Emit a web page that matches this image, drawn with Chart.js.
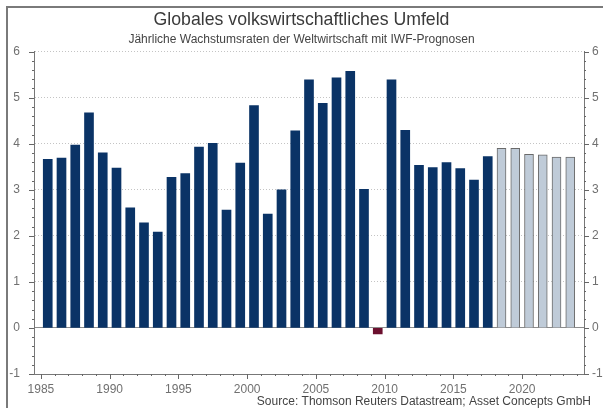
<!DOCTYPE html>
<html>
<head>
<meta charset="utf-8">
<script src="https://cdn.jsdelivr.net/npm/chart.js@4/dist/chart.umd.min.js"></script>
<style>
  html, body { margin: 0; padding: 0; background: #fff; overflow: hidden; }
  .frame {
    position: absolute; left: 6px; top: 6px; width: 700px; height: 500px;
    border-left: 2px solid #7a7a7a; border-top: 2px solid #7a7a7a;
  }
  .wrap { position: absolute; left: 0; top: 0; width: 603px; height: 408px; }
</style>
</head>
<body>
<div class="frame"></div>
<div class="wrap"><canvas id="chart" width="603" height="408"></canvas></div>
<script>
const TITLE = 'Globales volkswirtschaftliches Umfeld';
const SUBTITLE = 'Jährliche Wachstumsraten der Weltwirtschaft mit IWF-Prognosen';
const SOURCE = 'Source: Thomson Reuters Datastream; Asset Concepts GmbH';

// actual growth rates, 1985-2017
const actualYears = [
  1985, 1986, 1987, 1988, 1989, 1990, 1991, 1992, 1993, 1994, 1995,
  1996, 1997, 1998, 1999, 2000, 2001, 2002, 2003, 2004, 2005, 2006,
  2007, 2008, 2009, 2010, 2011, 2012, 2013, 2014, 2015, 2016, 2017,
];
const actualValues = [
  3.66, 3.69, 3.97, 4.67, 3.80, 3.47, 2.61, 2.28, 2.08, 3.27, 3.35,
  3.93, 4.01, 2.56, 3.58, 4.83, 2.47, 3.00, 4.28, 5.39, 4.88, 5.43,
  5.57, 3.01, -0.13, 5.39, 4.29, 3.53, 3.48, 3.59, 3.46, 3.21, 3.72,
];

// IMF forecasts, 2018-2023
const forecastYears = [2018, 2019, 2020, 2021, 2022, 2023];
const forecastValues = [3.90, 3.90, 3.77, 3.76, 3.71, 3.71];

const X_MIN = 1985;
const X_MAX = 2024;
const Y_MIN = -1;
const Y_MAX = 6;

const NAVY = '#0a3366';
const MAROON = '#6b0f2e';
const FONT_FAMILY = '"Liberation Sans", Arial, sans-serif';

function toPoints(years, values) {
  return years.map((year, i) => ({ x: year + 0.5, y: values[i] }));
}

const axisMarks = {
  id: 'axisMarks',
  afterDraw(chart) {
    const { ctx, chartArea, scales } = chart;
    ctx.save();
    ctx.strokeStyle = '#666';
    ctx.lineWidth = 1;
    ctx.beginPath();

    for (let year = X_MIN; year <= X_MAX; year++) {
      const x = Math.round(scales.x.getPixelForValue(year)) + 0.5;
      const len = year % 5 === 0 ? 5 : 2;
      ctx.moveTo(x, chartArea.bottom);
      ctx.lineTo(x, chartArea.bottom + len);
    }

    for (let step = Y_MIN * 5; step <= Y_MAX * 5; step++) {
      const y = Math.round(scales.y.getPixelForValue(step / 5)) + 0.5;
      const len = step % 5 === 0 ? 5 : 2;
      ctx.moveTo(chartArea.left - len, y);
      ctx.lineTo(chartArea.left, y);
      ctx.moveTo(chartArea.right, y);
      ctx.lineTo(chartArea.right + len, y);
    }
    ctx.stroke();

    ctx.fillStyle = '#444';
    ctx.font = `12px ${FONT_FAMILY}`;
    ctx.textAlign = 'right';
    ctx.textBaseline = 'middle';
    ctx.fillText(SOURCE, 591, 402);
    ctx.restore();
  },
};

const tickFont = { family: FONT_FAMILY, size: 12 };

function yAxis(position, width, padding, onChart) {
  return {
    type: 'linear',
    position,
    min: Y_MIN,
    max: Y_MAX,
    afterFit(scale) {
      scale.width = width;
    },
    ticks: {
      stepSize: 1,
      padding,
      color: '#707070',
      font: tickFont,
    },
    grid: {
      drawOnChartArea: onChart,
      drawTicks: false,
      lineWidth: 1,
      color(context) {
        if (!context.tick) {
          return '#c4c4c4';
        }
        return context.tick.value === 0 ? '#8c8c8c' : '#c4c4c4';
      },
    },
    border: {
      display: true,
      color: '#777',
      dash(context) {
        if (context.tick && context.tick.value !== 0) {
          return [1, 2];
        }
        return [];
      },
    },
  };
}

new Chart(document.getElementById('chart'), {
  type: 'bar',
  data: {
    datasets: [
      {
        label: 'Ist',
        data: toPoints(actualYears, actualValues),
        backgroundColor: actualValues.map((value) => (value < 0 ? MAROON : NAVY)),
        barThickness: 9,
        grouped: false,
      },
      {
        label: 'IWF-Prognose',
        data: toPoints(forecastYears, forecastValues),
        backgroundColor: '#bfcbd8',
        borderColor: '#6a6a6a',
        borderWidth: 1,
        barThickness: 9,
        grouped: false,
      },
    ],
  },
  options: {
    responsive: false,
    animation: false,
    layout: {
      padding: { top: 0, left: 0, right: 0, bottom: 0 },
    },
    scales: {
      x: {
        type: 'linear',
        min: X_MIN,
        max: X_MAX,
        afterFit(scale) {
          scale.height = 34;
        },
        ticks: {
          stepSize: 1,
          autoSkip: false,
          maxRotation: 0,
          padding: 8,
          color: '#707070',
          font: tickFont,
          callback(value) {
            return value % 5 === 0 ? String(value) : '';
          },
        },
        grid: {
          display: false,
          drawTicks: false,
        },
        border: {
          display: true,
          color: '#777',
        },
      },
      y: yAxis('left', 34, 14, true),
      y2: yAxis('right', 19, 8, false),
    },
    plugins: {
      legend: { display: false },
      tooltip: { enabled: false },
      title: {
        display: true,
        text: TITLE,
        color: '#3a3a3a',
        font: { family: FONT_FAMILY, size: 17.7, weight: 'normal' },
        padding: { top: 9, bottom: 2 },
      },
      subtitle: {
        display: true,
        text: SUBTITLE,
        color: '#444',
        font: { family: FONT_FAMILY, size: 12 },
        padding: { top: 0, bottom: 5 },
      },
    },
  },
  plugins: [axisMarks],
});
</script>
</body>
</html>
